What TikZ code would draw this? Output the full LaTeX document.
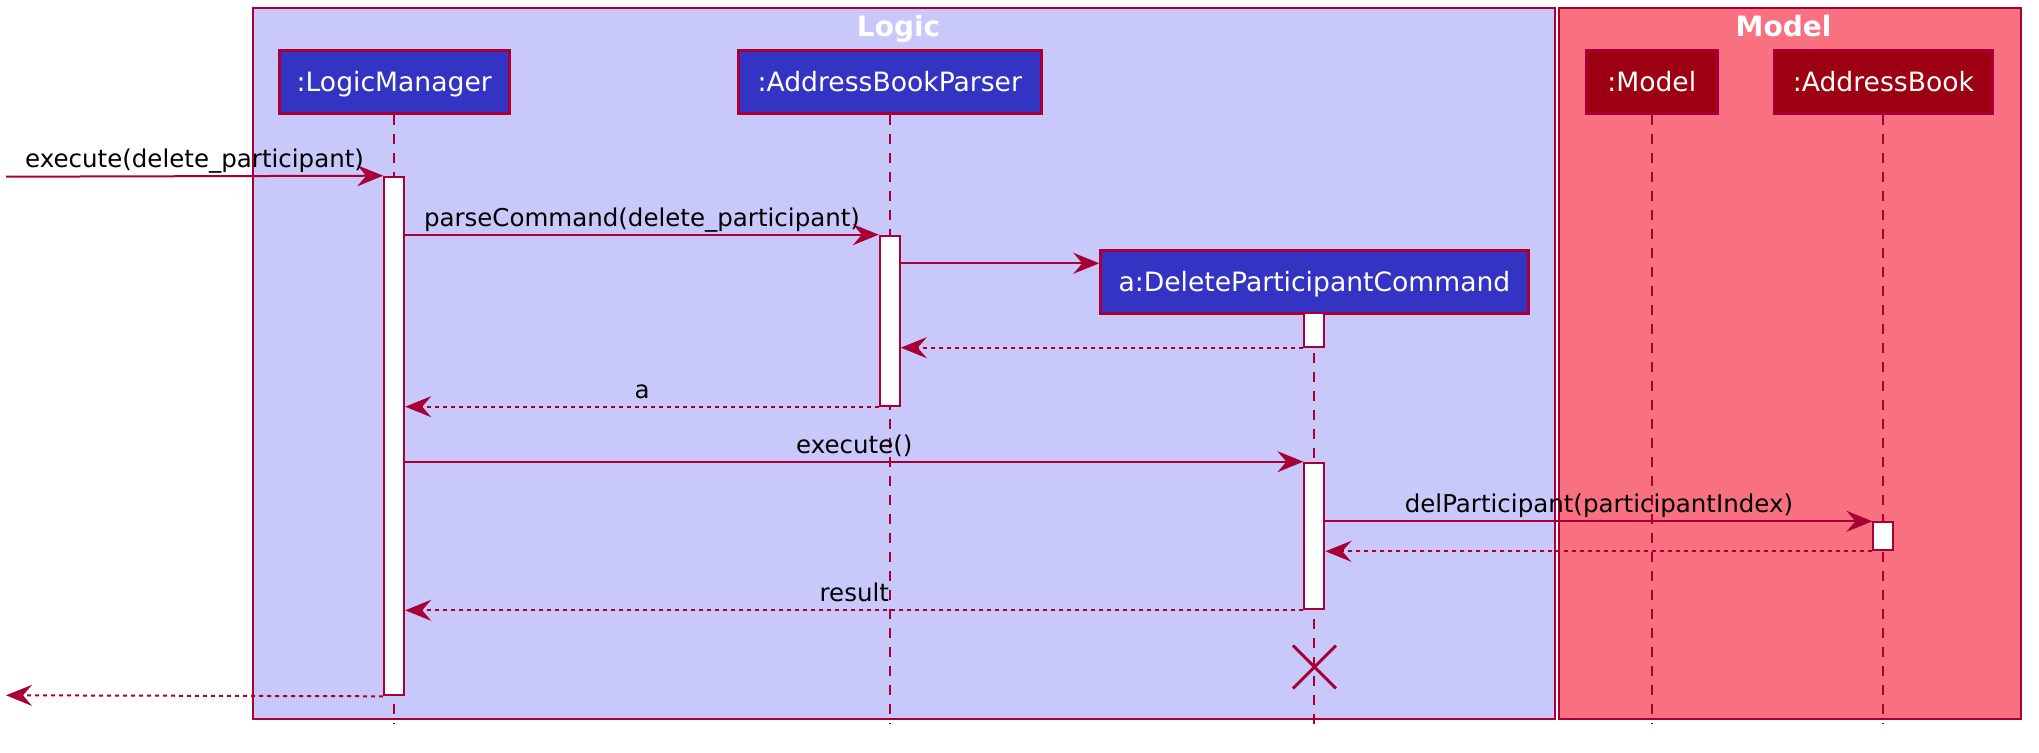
\documentclass[tikz,border=0pt]{standalone}
\usepackage{fontspec}
\setmainfont{DejaVu Sans}
\usetikzlibrary{arrows.meta,shapes.misc}

\definecolor{seqred}{HTML}{A80036}
\definecolor{logicfill}{HTML}{C8C8FA}
\definecolor{modelfill}{HTML}{F97181}
\definecolor{logicblue}{HTML}{3333C4}
\definecolor{modelred}{HTML}{9D0012}

\begin{document}
\begin{tikzpicture}
[
	x=0.5pt, y=-0.5pt,
	head/.style={draw=seqred,line width=1.4pt,text=white,inner sep=0pt,minimum height=31.3pt,text height=11pt,text depth=1.3pt,font=\fontsize{13.3}{16}\selectfont},
	logichead/.style={head,fill=logicblue},
	modelhead/.style={head,fill=modelred},
	actbar/.style={draw=seqred,fill=white,line width=1pt,inner sep=0pt,minimum width=10pt},
	lifeline/.style={draw=seqred,line width=1pt,dash pattern=on 5pt off 4.5pt},
	msg/.style={draw=seqred,line width=1pt,-{Stealth[length=13pt,width=10.5pt,inset=4.5pt]}},
	reply/.style={msg,dash pattern=on 2pt off 2pt},
	msglabel/.style={anchor=base,yshift=4.25pt,text=black,font=\fontsize{12.25}{14}\selectfont},
	groupbox/.style={draw=seqred,line width=1pt},
	grouptitle/.style={anchor=base,text=white,font=\bfseries\fontsize{14}{16}\selectfont}
]

	\useasboundingbox (0,0) rectangle (2039,753);
	\fill[white] (0,0) rectangle (2039,753);

	% boxes
	\draw[groupbox,fill=logicfill] (252.6,8.3) rectangle (1555.3,719.3);
	\draw[groupbox,fill=modelfill] (1558.6,8.3) rectangle (2020.6,719.3);
	\node[grouptitle] (logictitle) at (898.6,36.5) {Logic};
	\node[grouptitle] (modeltitle) at (1783.5,36.5) {Model};

	% participants
	\node[logichead,minimum width=114.9pt] (logicmanager) at (394.2,82) {:LogicManager};
	\node[logichead,minimum width=151.3pt] (parser) at (889.8,82) {:AddressBookParser};
	\node[modelhead,minimum width=65.3pt] (model) at (1651.8,82) {:Model};
	\node[modelhead,minimum width=109.4pt] (addressbook) at (1883.4,82) {:AddressBook};
	\node[logichead,minimum width=213.7pt] (command) at (1314.4,282) {a:DeleteParticipantCommand};

	% lifelines
	\coordinate (lifeend) at (0,724);
	\foreach \p in {logicmanager,parser,model,addressbook,command}
		\draw[lifeline] (\p.south) -- (\p.south |- lifeend);

	% activations
	\node[actbar,minimum height=259.3pt] (lmact) at (394.2,436) {};
	\node[actbar,minimum height=85pt] (parseract) at (889.8,320.7) {};
	\node[actbar,minimum height=16.7pt] (cmdacta) at (1314.4,330) {};
	\node[actbar,minimum height=73.3pt] (cmdactb) at (1314.4,536) {};
	\node[actbar,minimum height=14pt] (abact) at (1883.4,536.3) {};

	% messages
	\coordinate (callin) at (6,176.7);
	\coordinate (callout) at (6,695.3);
	\coordinate (creatept) at ([yshift=9.35pt]command.west);

	\draw[msg] (callin) -- (lmact.north west)
		node[msglabel,midway] (lblcall) {execute(delete\_participant)};
	\draw[msg] (lmact.east |- parseract.north) -- (parseract.north west)
		node[msglabel,midway] (lblparse) {parseCommand(delete\_participant)};
	\draw[msg] (parseract.east |- creatept) -- (creatept);
	\draw[reply] (cmdacta.south west) -- (parseract.east |- cmdacta.south);
	\draw[reply] (parseract.south west) -- (lmact.east |- parseract.south)
		node[msglabel,midway] (lbla) {a};
	\draw[msg] (lmact.east |- cmdactb.north) -- (cmdactb.north west)
		node[msglabel,midway] (lblexecute) {execute()};
	\draw[msg] (cmdactb.east |- abact.north) -- (abact.north west)
		node[msglabel,midway] (lbldelete) {delParticipant(participantIndex)};
	\draw[reply] (abact.south west) -- (cmdactb.east |- abact.south);
	\draw[reply] (cmdactb.south west) -- (lmact.east |- cmdactb.south)
		node[msglabel,midway] (lblresult) {result};
	\draw[reply] (lmact.south west) -- (callout);

	% destroy
	\node[cross out,draw=seqred,line width=1.5pt,minimum size=20pt,inner sep=0pt] (cmdend) at (1314.4,667) {};

\end{tikzpicture}
\end{document}
